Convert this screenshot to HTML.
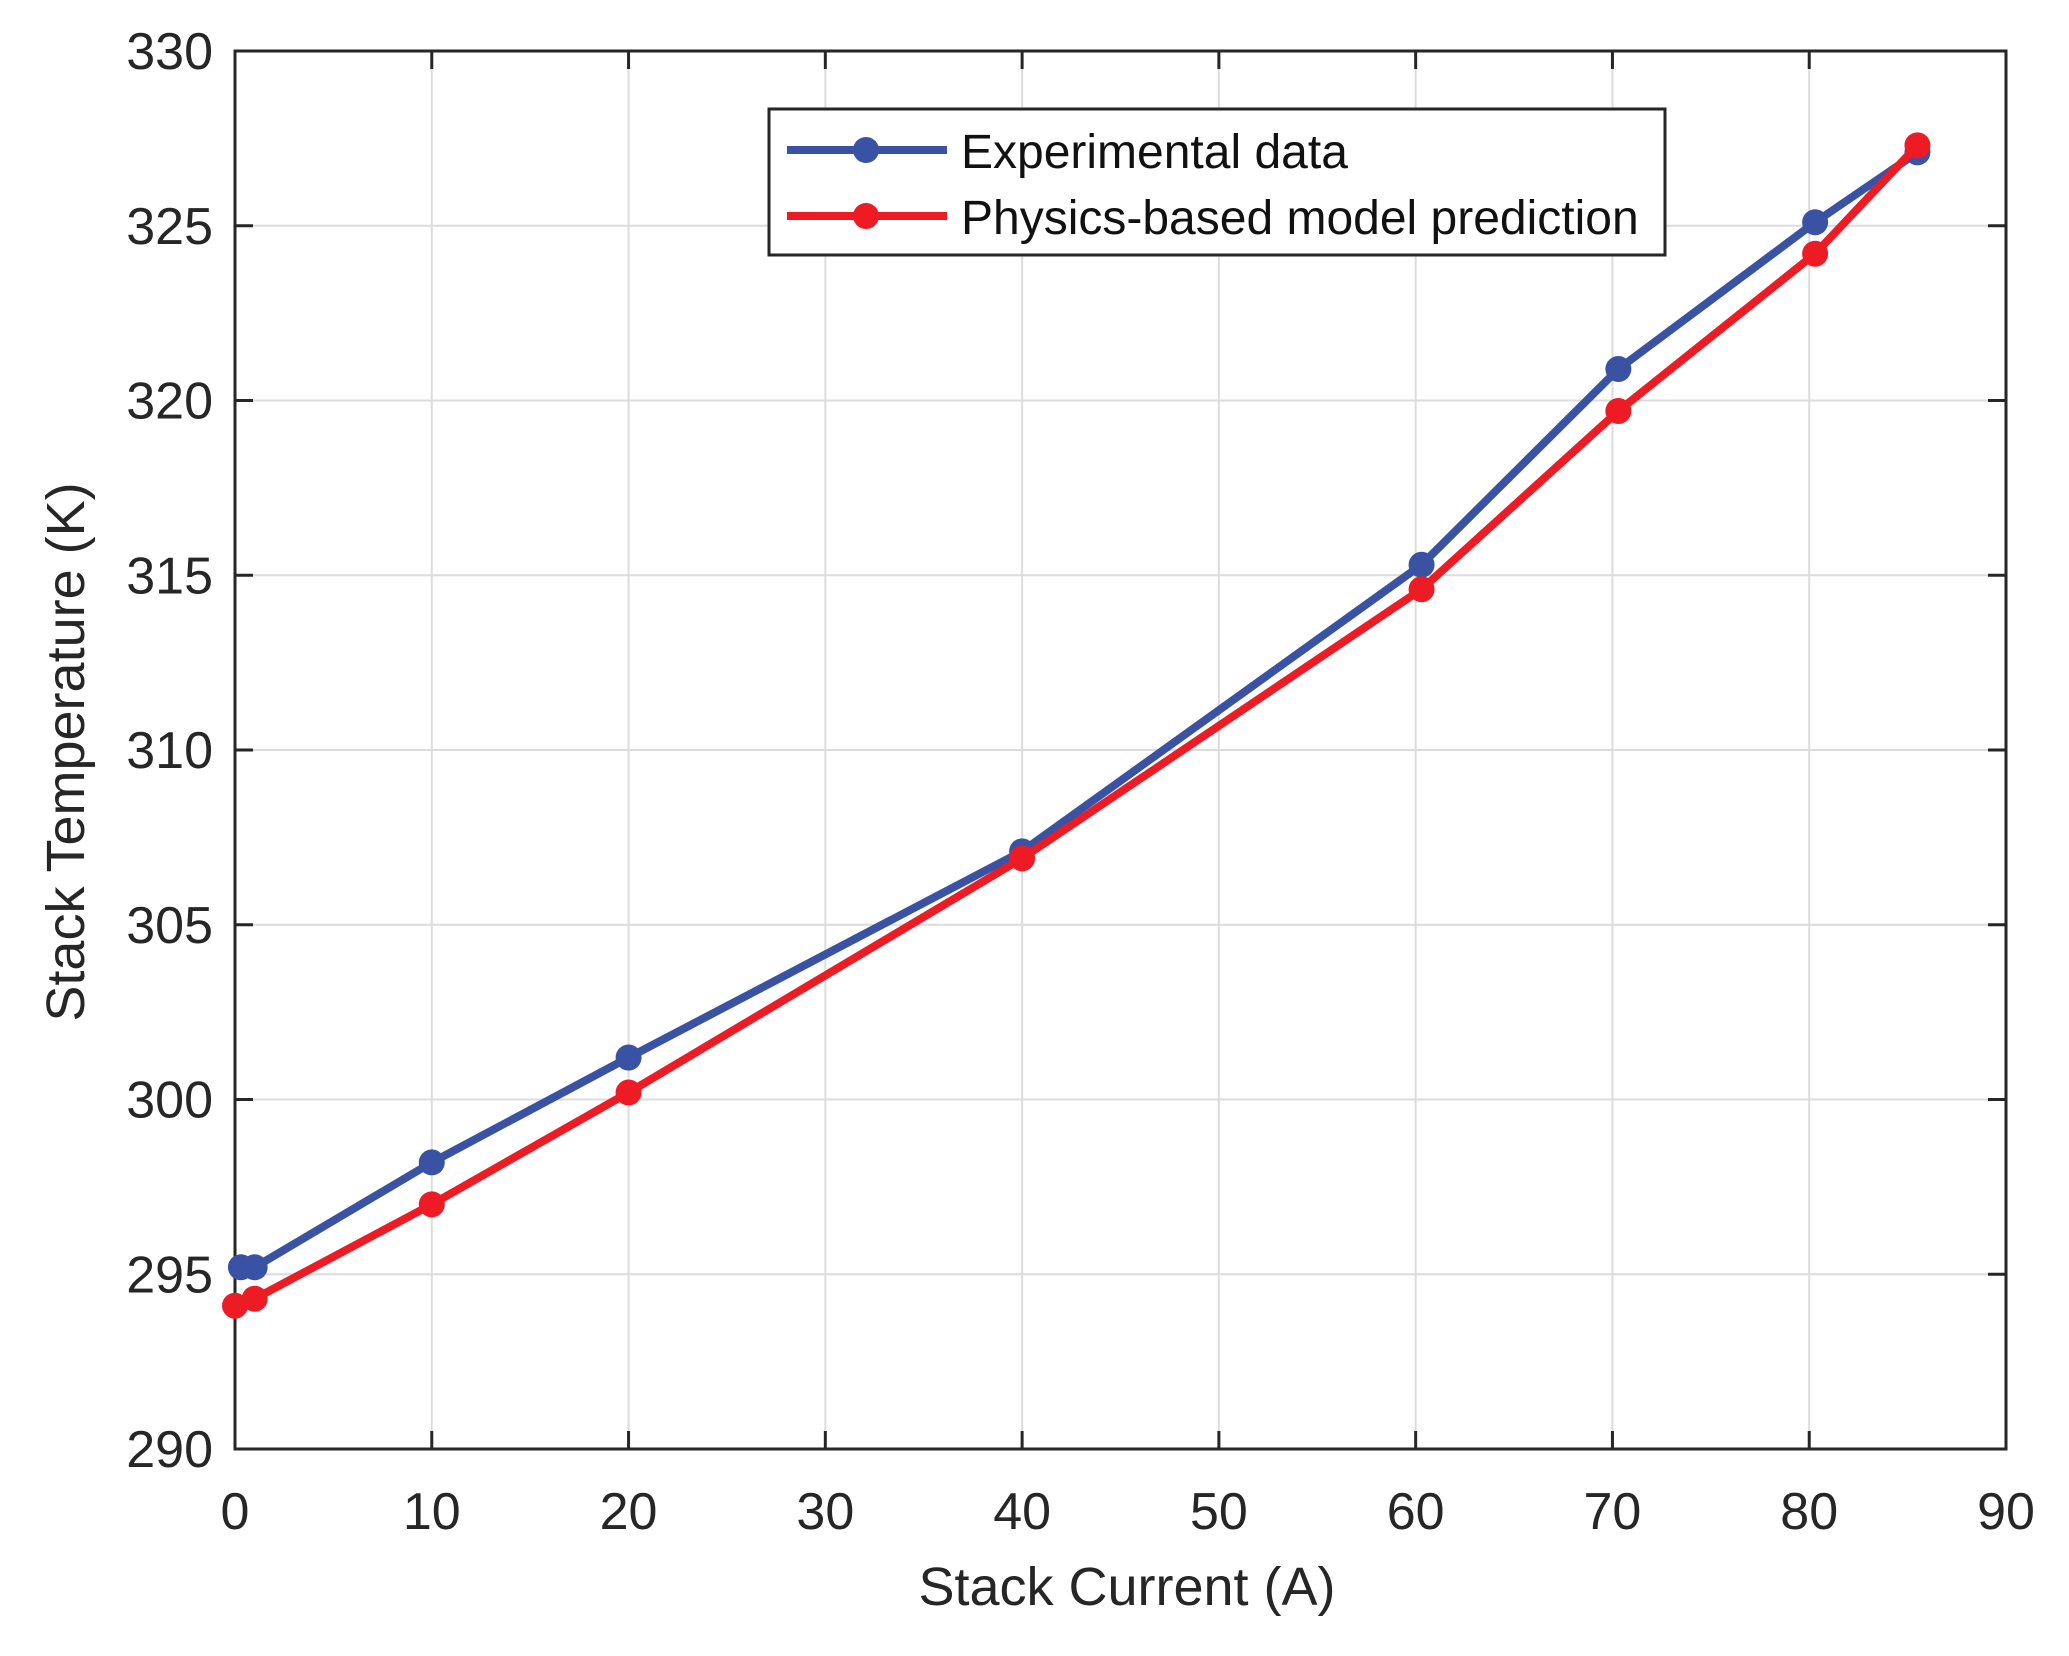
<!DOCTYPE html>
<html><head><meta charset="utf-8"><style>
html,body{margin:0;padding:0;background:#fff;}
svg{display:block;font-family:"Liberation Sans",Arial,sans-serif;}
</style></head><body>
<svg id="chart" width="2069" height="1656" viewBox="0 0 2069 1656">
<g id="grid"></g>
<g id="axes"></g>
<g id="series"></g>
<text x="1127" y="1605" font-size="54" text-anchor="middle" fill="#262626">Stack Current (A)</text>
<text transform="translate(84,752) rotate(-90)" font-size="54" text-anchor="middle" fill="#262626">Stack Temperature (K)</text>
<g>
<rect x="769" y="109" width="896" height="146" fill="#fff" stroke="#262626" stroke-width="3"/>
<g>
<line x1="787" y1="150" x2="947" y2="150" stroke="#3a52a4" stroke-width="8"/>
<circle cx="866" cy="150" r="13" fill="#3a52a4"/>
<text x="961" y="168" font-size="48" fill="#111">Experimental data</text>
</g>
<g>
<line x1="787" y1="216" x2="947" y2="216" stroke="#ed1c24" stroke-width="8"/>
<circle cx="866" cy="216" r="13" fill="#ed1c24"/>
<text x="961" y="234" font-size="48" fill="#111">Physics-based model prediction</text>
</g>
</g>
</svg>
<script>
const xTicks=[0,10,20,30,40,50,60,70,80,90];
const yTicks=[290,295,300,305,310,315,320,325,330];
const expX=[0.3,1,10,20,40,60.3,70.3,80.3,85.5];
const expY=[295.2,295.2,298.2,301.2,307.1,315.3,320.9,325.1,327.1];
const modX=[0,1,10,20,40,60.3,70.3,80.3,85.5];
const modY=[294.1,294.3,297,300.2,306.9,314.6,319.7,324.2,327.3];
const L=235,R=2006,T=51,B=1449;
const xs=v=>L+(v-0)/(90-0)*(R-L);
const ys=v=>B-(v-290)/(330-290)*(B-T);
const NS="http://www.w3.org/2000/svg";
function mk(tag,attrs,parent){const e=document.createElementNS(NS,tag);for(const k in attrs)e.setAttribute(k,attrs[k]);parent.appendChild(e);return e;}
const grid=document.getElementById('grid'),axes=document.getElementById('axes'),ser=document.getElementById('series');
xTicks.forEach(t=>{
 const x=xs(t);
 const g=mk('line',{x1:x,y1:T,x2:x,y2:B,stroke:'#dcdcdc','stroke-width':2},grid);
 
 
 mk('line',{x1:x,y1:B,x2:x,y2:B-18,stroke:'#262626','stroke-width':3},axes);
 mk('line',{x1:x,y1:T,x2:x,y2:T+18,stroke:'#262626','stroke-width':3},axes);
 const lb=mk('text',{x:x,y:1529,'font-size':52,'text-anchor':'middle',fill:'#262626'},axes);
 lb.textContent=t;
 
 
});
yTicks.forEach(t=>{
 const y=ys(t);
 const g=mk('line',{x1:L,y1:y,x2:R,y2:y,stroke:'#dcdcdc','stroke-width':2},grid);
 
 
 mk('line',{x1:L,y1:y,x2:L+18,y2:y,stroke:'#262626','stroke-width':3},axes);
 mk('line',{x1:R,y1:y,x2:R-18,y2:y,stroke:'#262626','stroke-width':3},axes);
 const lb=mk('text',{x:213,y:y+18,'font-size':52,'text-anchor':'end',fill:'#262626'},axes);
 lb.textContent=t;
 
 
});
const frame=mk('rect',{x:L,y:T,width:R-L,height:B-T,fill:'none',stroke:'#262626','stroke-width':3},axes);


function series(X,Y,color,name){
 const pl=mk('polyline',{points:X.map((x,i)=>xs(x)+','+ys(Y[i])).join(' '),fill:'none',stroke:color,'stroke-width':8,'stroke-linejoin':'round'},ser);
 
 
 X.forEach((x,i)=>{
  const c=mk('circle',{cx:xs(x),cy:ys(Y[i]),r:13,fill:color},ser);
  
  
 });
}
series(expX,expY,'#3a52a4','experimental');
series(modX,modY,'#ed1c24','model');
</script>
</body></html>
